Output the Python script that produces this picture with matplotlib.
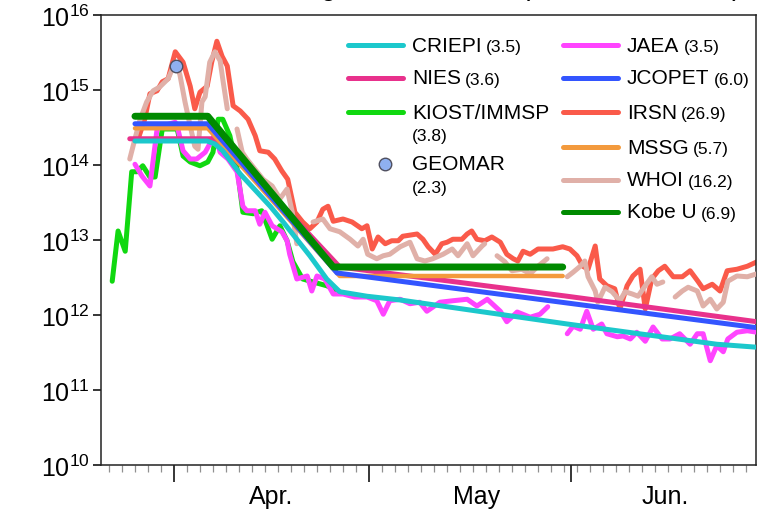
import numpy as np
import matplotlib
matplotlib.use('Agg')
import matplotlib.pyplot as plt
import matplotlib.transforms as mtransforms
from matplotlib.lines import Line2D
from matplotlib.ticker import FixedLocator, FuncFormatter, NullLocator

plt.rcParams['font.family'] = ['Liberation Sans', 'DejaVu Sans']
plt.rcParams['mathtext.fontset'] = 'custom'
plt.rcParams['mathtext.rm'] = 'Liberation Sans'
plt.rcParams['mathtext.default'] = 'regular'

nan = np.nan

# x: day of year 2011 (Apr 1 = 91), y: log10 of release rate
irsn_day = [85.5, 86.5, 87.3, 88.4, 89.2, 90.1, 91.2, 92.4, 93.5, 94.2, 95.0, 96.1, 96.8, 97.6, 98.4, 99.2,
            100.1, 101.2, 102.4, 103.5, 104.2, 105.5, 106.5, 107.6, 108.5, 109.6, 110.8, 111.9, 113.0, 113.9,
            114.7, 115.5, 117.0, 118.4, 119.9, 120.7, 121.5, 122.4, 123.5, 124.5, 125.5, 126.2, 128.4, 129.3,
            130.1, 131.2, 132.2, 133.0, 133.9, 135.3, 136.1, 136.8, 137.6, 138.8, 139.9, 141.2, 142.2, 143.2,
            143.9, 144.7, 145.8, 147.0, 148.4, 149.3, 150.8, 151.9, 153.0, 153.9, 154.7, 155.8, 156.5, 157.6,
            158.8, 159.6, 160.7, 161.6, 162.7, 163.5, 164.5, 165.5, 166.5, 167.8, 169.2, 170.4, 171.6, 172.4,
            173.8, 175.0, 176.1, 177.6, 179.2, 180.7]
irsn_log = [14.35, 14.61, 14.95, 14.99, 15.11, 15.15, 15.51, 15.37, 15.05, 14.75, 14.97, 15.05, 15.37, 15.65,
            15.45, 15.32, 14.79, 14.72, 14.61, 14.39, 14.19, 14.17, 14.08, 13.92, 13.81, 13.37, 13.24, 13.15,
            13.24, 13.41, 13.45, 13.25, 13.28, 13.24, 13.15, 13.19, 12.88, 13.04, 12.95, 12.99, 12.99, 13.05,
            13.08, 13.01, 12.91, 12.81, 12.95, 12.97, 13.01, 13.01, 13.08, 13.12, 13.01, 12.99, 13.04, 12.97,
            12.81, 12.75, 12.72, 12.85, 12.81, 12.88, 12.88, 12.88, 12.91, 12.88, 12.79, 12.65, 12.61, 12.92,
            12.48, 12.39, 12.35, 12.08, 12.39, 12.52, 12.61, 12.08, 12.48, 12.59, 12.65, 12.51, 12.51, 12.59,
            12.45, 12.35, 12.41, 12.32, 12.59, 12.61, 12.65, 12.71]

whoi_day = [84.2, 85.0, 85.8, 86.8, 87.8, 88.8, 90.1, 91.2, 91.9, 92.7, 93.5, 94.2, 94.7, 95.3, 95.8, 96.5,
            97.3, 98.1, 98.5, 99.2, nan, 100.7, 101.5, 102.2, 104.7, 106.1, 107.3, 108.4, 109.2, 109.9, nan,
            112.4, 113.9, 115.0, 116.5, 118.1, 119.3, 120.1, 120.8, 122.2, 123.2, 124.2, 125.8, 127.3, 128.4,
            129.6, 130.8, 132.4, 133.8, 134.7, 136.1, 137.0, 138.4, 138.8, nan, 140.7, 141.9, 143.0, 144.5,
            145.8, 147.0, 148.4, nan, 151.5, 152.4, 153.5, 154.2, 154.7, 155.8, 156.2, 157.3, 158.4, 159.6,
            160.4, 161.5, 162.4, 163.5, 164.5, 165.3, 166.2, nan, 168.1, 169.2, 170.1, 171.5, 172.4, 173.5,
            174.5, 175.5, 176.2, 177.6, 179.2, 180.7]
whoi_log = [14.08, 14.35, 14.61, 14.84, 14.99, 15.04, 15.15, 15.37, 15.21, 14.84, 14.52, 14.25, 14.21, 14.84,
            14.91, 15.37, 15.51, 15.39, 15.15, 14.75, nan, 14.48, 14.17, 14.08, 13.81, 13.72, 13.55, 13.68,
            13.37, 12.95, nan, 13.24, 13.28, 13.15, 13.11, 13.01, 12.92, 13.01, 12.81, 12.75, 12.79, 12.81,
            12.91, 12.97, 12.75, 12.72, 12.75, 12.81, 12.88, 12.79, 12.95, 12.79, 12.92, 12.95, nan, 12.79,
            12.71, 12.59, 12.61, 12.55, 12.65, 12.75, nan, 12.51, 12.57, 12.65, 12.72, 12.51, 12.32, 12.17,
            12.37, 12.31, 12.19, 12.31, 12.28, 12.25, 12.39, 12.51, 12.41, 12.44, nan, 12.24, 12.32, 12.37,
            12.32, 12.12, 12.21, 12.08, 12.17, 12.45, 12.52, 12.51, 12.55]

jaea_day = [85.0, 86.1, 87.3, 88.4, 89.2, 91.2, 91.6, 92.4, 93.5, 94.5, 95.8, 96.5, 97.3, 98.1, 99.3, 100.7,
            101.6, 102.2, 103.5, 104.2, 105.0, 106.1, 107.6, 108.4, 108.8, 109.9, 111.5, 112.2, 113.0, 114.2,
            115.5, 117.0, 118.8, 120.7, 122.2, 123.2, 124.2, 125.8, 127.3, 128.8, 129.9, 131.9, 133.9, 136.1,
            137.6, 139.2, 141.2, 142.2, 143.8, 145.8, 147.3, 148.5, nan, 151.5, 152.4, 153.5, 154.5, 155.5,
            156.8, 157.6, 159.2, 160.1, 161.2, 162.2, 163.5, 164.7, 166.1, 167.3, 168.8, 170.4, 171.5, 172.4,
            173.5, 174.5, 175.5, 176.2, 177.6, 179.2, 180.7]
jaea_log = [14.01, 13.85, 13.72, 14.48, 14.52, 14.57, 14.48, 14.19, 14.08, 14.08, 14.17, 14.28, 14.41, 14.17,
            14.08, 13.91, 13.45, 13.39, 13.39, 13.21, 13.37, 13.19, 13.11, 12.99, 12.81, 12.48, 12.52, 12.32,
            12.52, 12.48, 12.28, 12.28, 12.24, 12.24, 12.19, 12.01, 12.19, 12.21, 12.15, 12.17, 12.05, 12.17,
            12.19, 12.21, 12.12, 12.21, 12.05, 11.91, 12.04, 11.97, 12.01, 12.11, nan, 11.75, 11.85, 11.81,
            12.05, 11.81, 11.88, 11.75, 11.71, 11.72, 11.68, 11.77, 11.65, 11.84, 11.68, 11.68, 11.75, 11.61,
            11.75, 11.75, 11.39, 11.59, 11.51, 11.68, 11.77, 11.79, 11.77]

kiost_day = [81.5, 82.4, 83.5, 84.5, 85.3, 86.2, 87.3, 88.1, 89.2, 91.5, 92.4, 93.5, 95.0, 96.2, 97.0, 97.8,
             98.5, 99.6, 100.8, 101.6, 103.2, 104.5, 106.1, 107.3, 108.4, 109.3, 110.8, 112.4, 114.5, 116.5]
kiost_log = [12.45, 13.12, 12.85, 13.91, 13.91, 13.99, 13.84, 13.84, 14.48, 14.48, 14.12, 14.04, 13.99, 14.04,
             14.17, 14.61, 14.61, 14.39, 13.91, 13.37, 13.35, 13.39, 13.01, 13.19, 12.99, 12.71, 12.48, 12.44,
             12.39, 12.31]

criepi_day = [85.0, 96.1, 97.3, 98.5, 101.2, 105.8, 107.8, 111.9, 114.5, 116.5, 120.7, 125.8, 151.5, 174.5, 180.7]
criepi_log = [14.32, 14.32, 14.28, 14.19, 13.88, 13.45, 13.24, 12.79, 12.48, 12.31, 12.25, 12.20, 11.88, 11.61, 11.57]

nies_day = [84.2, 97.0, 105.3, 116.5, 151.5, 180.7]
nies_log = [14.35, 14.35, 13.68, 12.64, 12.25, 11.91]

jcopet_day = [85.0, 96.2, 116.1, 180.7]
jcopet_log = [14.55, 14.55, 12.56, 11.83]

mssg_day = [85.0, 96.2, 116.5, 150.8]
mssg_log = [14.49, 14.49, 12.52, 12.52]

kobe_day = [85.0, 96.2, 115.5, 150.8]
kobe_log = [14.65, 14.65, 12.64, 12.64]

geomar_day = [91.3]
geomar_log = [15.32]

# total release (PBq) shown in the legend
totals = {'CRIEPI': 3.5, 'JAEA': 3.5, 'NIES': 3.6, 'JCOPET': 6.0, 'KIOST/IMMSP': 3.8,
          'IRSN': 26.9, 'GEOMAR': 2.3, 'MSSG': 5.7, 'WHOI': 16.2, 'Kobe U': 6.9}

month_edges = [91, 121, 152]
month_label_days = [106, 137.5, 166.5]
month_labels = ['Apr.', 'May', 'Jun.']

colors = {'CRIEPI': '#1cc8cc', 'NIES': '#e8318c', 'KIOST/IMMSP': '#10d810', 'GEOMAR': '#8fb0f0',
          'JAEA': '#ff44ff', 'JCOPET': '#3355ff', 'IRSN': '#fa5a4a', 'MSSG': '#f39a3d',
          'WHOI': '#e0b0a8', 'Kobe U': '#008a00'}

fig = plt.figure(figsize=(7.58, 5.10), dpi=100)
ax = fig.add_axes([0.1332, 0.0863, 0.8642, 0.8823])

# bottom-to-top drawing order
series = [('IRSN', irsn_day, irsn_log, 3.6),
          ('WHOI', whoi_day, whoi_log, 3.6),
          ('KIOST/IMMSP', kiost_day, kiost_log, 3.6),
          ('JAEA', jaea_day, jaea_log, 3.6),
          ('NIES', nies_day, nies_log, 3.6),
          ('MSSG', mssg_day, mssg_log, 3.2),
          ('JCOPET', jcopet_day, jcopet_log, 3.6),
          ('CRIEPI', criepi_day, criepi_log, 3.6),
          ('Kobe U', kobe_day, kobe_log, 5.0)]
for i, (name, d, lg, lw) in enumerate(series):
    ax.plot(d, 10.0 ** np.array(lg), color=colors[name], lw=lw, zorder=2 + i,
            solid_joinstyle='round', solid_capstyle='round')
ax.plot(geomar_day, 10.0 ** np.array(geomar_log), 'o', ms=9, mfc=colors['GEOMAR'], mec='#505060',
        mew=1.0, zorder=20)

ax.set_yscale('log')
ax.set_ylim(1e10, 1e16)
ax.set_xlim(79.77, 180.54)
ax.yaxis.set_major_locator(FixedLocator([10.0 ** k for k in range(10, 17)]))
ax.yaxis.set_minor_locator(NullLocator())
ax.yaxis.set_major_formatter(FuncFormatter(lambda v, p: r'$10^{%d}$' % round(np.log10(v))))
ax.tick_params(axis='y', which='major', labelsize=18, length=6, width=1.1, pad=2, direction='out')

ax.set_xticks(month_edges)
ax.set_xticklabels([])
ax.set_xticks(np.arange(81, 181, 2), minor=True)
ax.tick_params(axis='x', which='major', length=12, width=1.1, direction='out')
ax.tick_params(axis='x', which='minor', length=5, width=0.9, color='#909090', direction='out')
tr = mtransforms.blended_transform_factory(ax.transData, ax.transAxes)
for d, lab in zip(month_label_days, month_labels):
    ax.text(d, -0.069, lab, transform=tr, ha='center', va='center', fontsize=18)

for s in ax.spines.values():
    s.set_linewidth(1.1)
    s.set_color('#222222')

# title, mostly above the cropped top edge (only descenders show)
fig.text(0.978, 1.0 + 4.0 / 510, 'Direct discharge rate of $^{137}$Cs (model estimates)',
         ha='right', va='baseline', fontsize=20)


def legend_entry(x0, y, name, wrap=False, marker=False):
    if marker:
        fig.add_artist(Line2D([x0 + 0.049], [y], transform=fig.transFigure, marker='o', ms=9,
                              mfc=colors[name], mec='#505060', mew=1.0, ls='none'))
    else:
        fig.add_artist(Line2D([x0, x0 + 0.073], [y, y], transform=fig.transFigure, color=colors[name],
                              lw=3.6, solid_capstyle='round'))
    t = fig.text(x0 + 0.0845, y, name, fontsize=15, va='center')
    num = '(%.1f)' % totals[name]
    if wrap:
        fig.text(x0 + 0.0845, y - 0.047, num, fontsize=12.5, va='center')
    else:
        ax.annotate(num, xy=(1, 0), xycoords=t, xytext=(3, 0.5), textcoords='offset points',
                    fontsize=12.5, va='bottom', ha='left')


c1, c2 = 0.4591, 0.7427
legend_entry(c1, 0.9098, 'CRIEPI')
legend_entry(c1, 0.8451, 'NIES')
legend_entry(c1, 0.7784, 'KIOST/IMMSP', wrap=True)
legend_entry(c1, 0.6765, 'GEOMAR', wrap=True, marker=True)
legend_entry(c2, 0.9098, 'JAEA')
legend_entry(c2, 0.8451, 'JCOPET')
legend_entry(c2, 0.7784, 'IRSN')
legend_entry(c2, 0.7098, 'MSSG')
legend_entry(c2, 0.6451, 'WHOI')
legend_entry(c2, 0.5824, 'Kobe U')

fig.savefig('out.png', dpi=100)
